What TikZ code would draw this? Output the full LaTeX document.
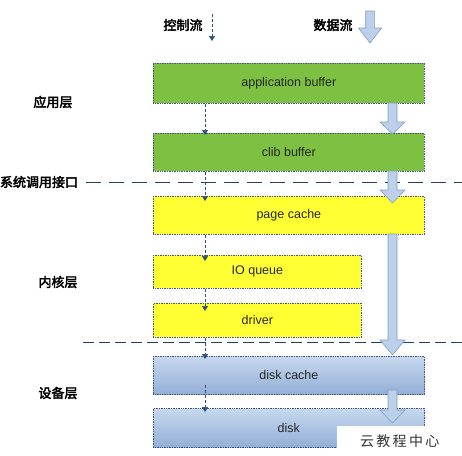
\documentclass[tikz,border=0pt]{standalone}
\usepackage{fontspec}
\setmainfont{Liberation Sans}
\newfontfamily\cjk{Noto Sans CJK SC}[FakeBold=3]
\newfontfamily\cjkw{Noto Sans CJK SC}
\usetikzlibrary{arrows.meta,calc}
\definecolor{boxgreen}{HTML}{7DC042}
\definecolor{boxyellow}{HTML}{FFFF33}
\definecolor{bluetop}{HTML}{C7D8EE}
\definecolor{bluebot}{HTML}{93AFD7}
\definecolor{edgedark}{HTML}{3F5A78}
\definecolor{ctrlblue}{HTML}{2E4F7A}
\definecolor{arrowfill}{HTML}{BCD0EA}
\definecolor{arrowedge}{HTML}{7F9CC6}
\definecolor{linedark}{HTML}{1F3F66}
\begin{document}
\begin{tikzpicture}[x=1pt,y=-1pt,
  layerbox/.style={draw=edgedark, densely dotted, line width=0.7pt, inner sep=0pt, font=\fontsize{12.5}{14}\selectfont, text=black!85},
  greenbox/.style={layerbox, fill=boxgreen},
  yellowbox/.style={layerbox, fill=boxyellow},
  bluebox/.style={layerbox, top color=bluetop, bottom color=bluebot},
  layerlabel/.style={font=\cjk\fontsize{13}{15}\selectfont, inner sep=0pt},
  ctrl/.style={draw=ctrlblue, densely dashed, line width=0.7pt, -{Triangle[width=6pt,length=5pt]}},
  dataarrow/.style={fill=arrowfill, draw=arrowedge, line width=0.6pt, line join=miter},
  sepdash/.style={draw=linedark, line width=0.9pt, dash pattern=on 15pt off 8pt},
  sepdot/.style={draw=linedark, line width=0.9pt, dash pattern=on 11pt off 5pt}
]
\useasboundingbox (0,0) rectangle (462,455);
\fill[white] (0,0) rectangle (462,455);

% separators
\draw[sepdash] (86,182) -- (462,182);
\draw[sepdot] (83,342) -- (462,342);

% boxes
\node[greenbox, minimum width=271pt, minimum height=40pt, anchor=north west] (app) at (153,63) {application buffer};
\node[greenbox, minimum width=271pt, minimum height=38pt, anchor=north west] (clib) at (153,133) {clib buffer};
\node[yellowbox, minimum width=271pt, minimum height=38pt, anchor=north west] (page) at (153,196) {page cache};
\node[yellowbox, minimum width=208pt, minimum height=33pt, anchor=north west] (ioq) at (153,255) {IO queue};
\node[yellowbox, minimum width=208pt, minimum height=34pt, anchor=north west] (drv) at (153,303) {driver};
\node[bluebox, minimum width=271pt, minimum height=38pt, anchor=north west] (dcache) at (153,356) {disk cache};
\node[bluebox, minimum width=271pt, minimum height=39pt, anchor=north west] (disk) at (153,408) {disk};

% labels
\node[layerlabel] (lctrl) at (183,25) {控制流};
\node[layerlabel] (ldata) at (333,25) {数据流};
\node[layerlabel] (lapp) at (53,102) {应用层};
\node[layerlabel] (lsys) at (39,182) {系统调用接口};
\node[layerlabel] (lkern) at (58,282) {内核层};
\node[layerlabel] (ldev) at (58,393) {设备层};

% control flow
\coordinate (ctop) at (212,14);
\coordinate (cbot) at (212,41);
\draw[ctrl] (ctop) -- (cbot);
\coordinate (cx) at (205,0);
\draw[ctrl] (app.south -| cx) -- ($(clib.north -| cx)+(0,2)$);
\draw[ctrl] (clib.south -| cx) -- ($(page.north -| cx)+(0,5)$);
\draw[ctrl] (page.south -| cx) -- ($(ioq.north -| cx)+(0,6)$);
\draw[ctrl] (ioq.south -| cx) -- ($(drv.north -| cx)+(0,8)$);
\draw[ctrl] (drv.south -| cx) -- ($(dcache.north -| cx)+(0,3)$);
\draw[ctrl] ($(dcache.south -| cx)+(0,-10)$) -- ($(disk.north -| cx)+(0,4)$);

% data flow arrows: center x, shaft top, head top, tip, shaft half width, head half width
\newcommand\blockarrow[6]{%
  \draw[dataarrow] (#1-#5,#2) -- (#1+#5,#2) -- (#1+#5,#3) -- (#1+#6,#3) -- (#1,#4) -- (#1-#6,#3) -- (#1-#5,#3) -- cycle;}
\blockarrow{370}{11}{28}{43}{4.3}{11.5}
\blockarrow{392.5}{103}{122}{134}{4.5}{12.5}
\blockarrow{392.5}{171}{190}{203}{4.5}{12.5}
\blockarrow{392.5}{234}{340}{355}{4.5}{12.5}
\blockarrow{392.5}{390}{410}{423}{4.5}{12.5}

% watermark box
\node[fill=white, inner sep=0pt, minimum width=125pt, minimum height=29pt, anchor=north west, font=\cjkw\fontsize{14}{16}\selectfont, text=black!80] (wm) at (337,426) {云\,教\,程\,中\,心};
\end{tikzpicture}
\end{document}
